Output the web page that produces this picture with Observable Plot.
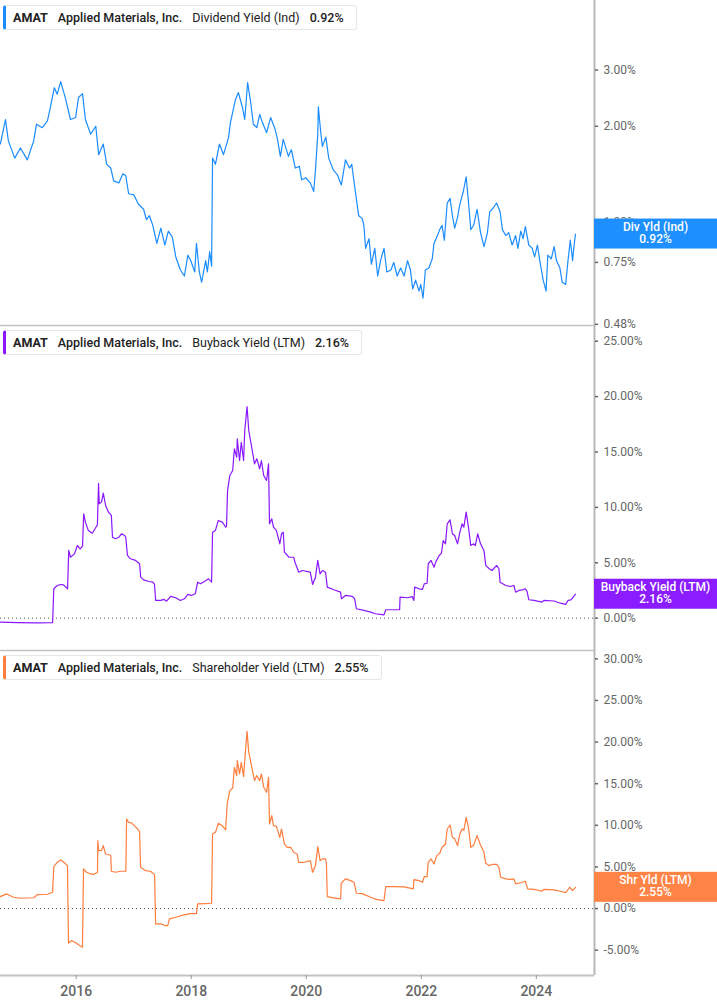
<!DOCTYPE html>
<html>
<head>
<meta charset="utf-8">
<script src="https://cdn.jsdelivr.net/npm/d3@7"></script>
<script src="https://cdn.jsdelivr.net/npm/@observablehq/plot@0.6"></script>
<style>
  body { margin: 0; background: #fff; font-family: Roboto, "Noto Sans", sans-serif; }
  #wrap { position: relative; width: 717px; }
  .panel { position: relative; }
  .panel svg { display: block; }
  .legend {
    position: absolute; left: 3px; top: 5px; height: 23px;
    display: flex; align-items: center; gap: 10px;
    padding: 0 12px 0 7px; box-sizing: content-box;
    border: 1px solid #e6e6e6; border-left: 3px solid; border-radius: 3px;
    background: #fff; font-size: 12.5px; color: #222; white-space: nowrap;
  }
  .legend .tk { font-weight: 700; }
  .legend .co { font-weight: 500; }
  .legend .se { font-weight: 400; }
  .legend .va { font-weight: 500; }
</style>
</head>
<body>
<div id="wrap"></div>
<script>
// ---- data (decimal year, yield %) ----
const ticker = "AMAT";
const company = "Applied Materials, Inc.";

const dividendYield = [
[2014.68,1.76],[2014.77,2.10],[2014.82,1.80],[2014.93,1.59],[2015.03,1.71],[2015.15,1.57],[2015.26,1.80],[2015.31,2.03],[2015.41,1.98],[2015.50,2.08],
[2015.55,2.29],[2015.62,2.64],[2015.67,2.52],[2015.73,2.76],[2015.81,2.46],[2015.90,2.10],[2015.99,2.13],[2016.04,2.46],[2016.11,2.53],[2016.16,2.10],
[2016.25,1.89],[2016.34,2.00],[2016.39,1.63],[2016.47,1.76],[2016.53,1.52],[2016.60,1.48],[2016.65,1.35],[2016.74,1.33],[2016.81,1.42],[2016.86,1.40],
[2016.91,1.23],[2017.00,1.22],[2017.08,1.14],[2017.17,1.10],[2017.22,1.02],[2017.27,1.05],[2017.33,0.98],[2017.40,0.86],[2017.47,0.96],[2017.54,0.85],
[2017.60,0.94],[2017.67,0.90],[2017.73,0.78],[2017.81,0.71],[2017.88,0.68],[2017.94,0.79],[2017.99,0.76],[2018.06,0.70],[2018.09,0.86],[2018.14,0.70],
[2018.18,0.65],[2018.25,0.76],[2018.28,0.70],[2018.32,0.81],[2018.353,0.73],[2018.37,1.59],[2018.42,1.52],[2018.49,1.76],[2018.56,1.63],[2018.65,1.85],
[2018.68,2.05],[2018.77,2.43],[2018.82,2.55],[2018.89,2.29],[2018.93,2.10],[2018.98,2.74],[2019.03,2.40],[2019.08,2.03],[2019.14,1.98],[2019.19,2.18],
[2019.24,2.05],[2019.31,1.91],[2019.38,2.13],[2019.45,1.98],[2019.50,1.82],[2019.55,1.61],[2019.60,1.82],[2019.69,1.61],[2019.74,1.69],[2019.81,1.48],
[2019.88,1.50],[2019.92,1.36],[2019.99,1.38],[2020.07,1.33],[2020.13,1.25],[2020.16,1.46],[2020.20,1.89],[2020.21,2.30],[2020.25,1.93],[2020.28,1.73],
[2020.34,1.85],[2020.39,1.59],[2020.47,1.46],[2020.54,1.41],[2020.61,1.31],[2020.68,1.57],[2020.75,1.48],[2020.79,1.52],[2020.82,1.38],[2020.86,1.22],
[2020.91,1.05],[2020.97,1.03],[2021.00,0.98],[2021.03,0.83],[2021.09,0.89],[2021.13,0.74],[2021.19,0.83],[2021.24,0.68],[2021.29,0.76],[2021.35,0.83],
[2021.40,0.70],[2021.47,0.71],[2021.52,0.75],[2021.58,0.68],[2021.64,0.72],[2021.70,0.68],[2021.76,0.76],[2021.81,0.71],[2021.85,0.62],[2021.90,0.66],
[2021.96,0.61],[2021.99,0.64],[2022.03,0.58],[2022.07,0.71],[2022.13,0.72],[2022.19,0.77],[2022.22,0.86],[2022.28,0.91],[2022.32,0.95],[2022.36,0.98],
[2022.40,0.88],[2022.45,1.15],[2022.50,1.19],[2022.54,1.05],[2022.58,0.96],[2022.63,1.04],[2022.67,1.14],[2022.73,1.25],[2022.78,1.39],[2022.82,1.16],
[2022.86,0.95],[2022.91,0.98],[2022.97,1.10],[2023.03,0.93],[2023.09,0.84],[2023.15,0.93],[2023.19,1.08],[2023.25,1.11],[2023.31,1.15],[2023.37,1.08],
[2023.41,0.95],[2023.47,0.91],[2023.52,0.93],[2023.58,0.85],[2023.64,0.91],[2023.68,0.83],[2023.73,0.94],[2023.77,0.89],[2023.81,0.97],[2023.87,0.85],
[2023.93,0.83],[2023.97,0.78],[2024.02,0.85],[2024.06,0.76],[2024.12,0.66],[2024.17,0.61],[2024.20,0.79],[2024.26,0.77],[2024.31,0.84],[2024.35,0.76],
[2024.41,0.72],[2024.45,0.65],[2024.51,0.64],[2024.55,0.76],[2024.59,0.88],[2024.63,0.76],[2024.65,0.83],[2024.68,0.92]
];

const buybackYield = [
[2014.68,-0.36],[2014.98,-0.40],[2015.33,-0.42],[2015.59,-0.40],[2015.61,2.65],[2015.67,2.95],[2015.73,3.04],[2015.78,3.00],[2015.85,2.65],[2015.87,6.11],
[2015.90,5.50],[2015.97,5.80],[2016.02,6.56],[2016.07,6.26],[2016.11,6.50],[2016.13,9.42],[2016.16,8.67],[2016.21,7.92],[2016.28,7.67],[2016.35,8.28],
[2016.368,8.40],[2016.388,12.18],[2016.40,10.32],[2016.44,10.50],[2016.47,11.28],[2016.51,10.17],[2016.56,9.57],[2016.61,9.27],[2016.63,7.31],[2016.68,7.17],
[2016.74,7.31],[2016.79,7.62],[2016.84,7.46],[2016.86,7.31],[2016.89,5.66],[2016.94,5.36],[2017.03,5.21],[2017.10,4.91],[2017.12,3.70],[2017.17,3.46],
[2017.26,3.31],[2017.33,3.25],[2017.36,3.04],[2017.38,1.60],[2017.47,1.60],[2017.52,1.70],[2017.57,1.53],[2017.64,1.96],[2017.73,1.84],[2017.81,1.60],
[2017.88,1.75],[2017.94,2.14],[2018.00,2.05],[2018.07,2.20],[2018.11,3.25],[2018.16,3.10],[2018.23,3.31],[2018.30,3.55],[2018.353,3.25],[2018.37,7.76],
[2018.42,7.92],[2018.47,8.82],[2018.54,8.67],[2018.60,8.21],[2018.613,8.30],[2018.631,11.52],[2018.67,12.88],[2018.72,13.33],[2018.75,15.29],[2018.79,14.53],
[2018.80,16.19],[2018.84,14.23],[2018.87,15.88],[2018.91,14.23],[2018.93,16.94],[2018.97,19.10],[2019.00,16.94],[2019.03,16.04],[2019.07,14.84],[2019.10,13.93],
[2019.14,14.39],[2019.19,13.48],[2019.22,14.23],[2019.26,12.88],[2019.31,12.43],[2019.344,13.93],[2019.361,8.52],[2019.40,8.97],[2019.43,8.21],[2019.48,7.92],
[2019.54,6.71],[2019.57,7.62],[2019.60,7.76],[2019.62,5.96],[2019.70,5.50],[2019.78,5.50],[2019.81,4.96],[2019.87,4.15],[2019.93,4.30],[2020.07,4.15],
[2020.11,3.04],[2020.16,3.70],[2020.20,5.21],[2020.24,4.00],[2020.28,4.30],[2020.335,4.15],[2020.365,2.80],[2020.48,2.56],[2020.596,2.35],[2020.61,1.75],
[2020.68,2.05],[2020.80,1.96],[2020.84,1.75],[2020.87,0.85],[2021.00,0.70],[2021.12,0.54],[2021.20,0.40],[2021.35,0.30],[2021.38,0.76],[2021.52,0.76],
[2021.622,0.76],[2021.63,1.90],[2021.76,1.84],[2021.84,1.95],[2021.87,1.60],[2021.883,2.80],[2021.96,2.65],[2022.02,2.60],[2022.05,3.10],[2022.10,3.15],
[2022.12,4.91],[2022.17,5.21],[2022.22,4.60],[2022.25,5.06],[2022.31,5.66],[2022.35,5.87],[2022.38,7.01],[2022.42,6.71],[2022.45,8.52],[2022.50,8.88],
[2022.54,7.62],[2022.58,7.46],[2022.63,6.71],[2022.67,7.76],[2022.71,8.52],[2022.74,8.21],[2022.78,9.57],[2022.82,8.21],[2022.86,6.56],[2022.91,6.71],
[2022.94,6.56],[2022.98,7.62],[2023.03,6.71],[2023.09,6.11],[2023.12,4.76],[2023.18,4.46],[2023.23,4.30],[2023.31,4.76],[2023.35,4.46],[2023.37,3.25],
[2023.47,2.95],[2023.55,2.86],[2023.61,2.95],[2023.64,2.35],[2023.70,2.50],[2023.76,2.55],[2023.81,2.65],[2023.84,2.40],[2023.87,1.66],[2023.96,1.60],
[2024.10,1.44],[2024.13,1.60],[2024.31,1.55],[2024.42,1.35],[2024.51,1.24],[2024.55,1.60],[2024.60,1.65],[2024.68,2.16]
];

const shareholderYield = [
[2014.68,1.44],[2014.79,1.76],[2014.91,1.36],[2015.03,1.24],[2015.26,1.30],[2015.33,1.68],[2015.50,1.72],[2015.589,1.96],[2015.61,5.04],[2015.67,5.56],
[2015.73,5.84],[2015.78,5.60],[2015.848,5.16],[2015.866,-4.16],[2015.92,-3.84],[2015.99,-4.10],[2016.06,-4.44],[2016.109,-4.64],[2016.127,4.76],[2016.18,4.36],
[2016.25,4.16],[2016.30,4.10],[2016.37,4.36],[2016.375,8.16],[2016.39,6.96],[2016.44,7.00],[2016.47,7.56],[2016.51,6.56],[2016.60,6.40],[2016.61,4.48],
[2016.68,4.36],[2016.77,4.48],[2016.862,4.48],[2016.874,10.76],[2016.91,10.36],[2016.96,10.30],[2017.01,9.96],[2017.10,9.28],[2017.118,4.96],[2017.20,4.56],
[2017.29,4.48],[2017.361,4.08],[2017.379,-1.84],[2017.47,-1.84],[2017.54,-2.04],[2017.59,-2.04],[2017.62,-1.24],[2017.73,-1.04],[2017.87,-0.76],[2017.99,-0.60],
[2018.09,-0.60],[2018.11,0.56],[2018.25,0.60],[2018.353,0.64],[2018.37,8.96],[2018.42,9.16],[2018.47,10.24],[2018.54,9.96],[2018.596,9.44],[2018.625,12.57],
[2018.67,14.17],[2018.72,14.49],[2018.75,16.96],[2018.79,15.97],[2018.80,17.77],[2018.84,16.17],[2018.87,17.56],[2018.91,15.85],[2018.93,17.77],[2018.97,21.28],
[2019.00,18.76],[2019.03,17.77],[2019.07,16.36],[2019.10,15.37],[2019.14,15.97],[2019.19,15.37],[2019.22,16.17],[2019.26,14.57],[2019.31,13.97],[2019.344,15.77],
[2019.361,10.16],[2019.40,11.16],[2019.43,9.96],[2019.48,9.90],[2019.54,8.56],[2019.57,9.56],[2019.62,7.76],[2019.67,7.36],[2019.73,7.36],[2019.78,6.76],
[2019.84,6.56],[2019.87,5.56],[2019.96,5.56],[2020.07,5.76],[2020.11,4.36],[2020.16,5.16],[2020.20,7.44],[2020.24,5.76],[2020.28,5.96],[2020.335,5.96],
[2020.35,5.44],[2020.365,1.44],[2020.48,1.28],[2020.596,1.16],[2020.608,3.04],[2020.68,3.56],[2020.77,3.36],[2020.83,3.16],[2020.87,1.84],[2020.97,1.80],
[2021.12,1.36],[2021.23,1.08],[2021.35,0.96],[2021.38,2.64],[2021.52,2.64],[2021.70,2.60],[2021.861,2.36],[2021.871,3.48],[2021.96,3.36],[2022.02,3.16],
[2022.05,3.84],[2022.10,3.84],[2022.12,5.56],[2022.17,5.96],[2022.22,5.36],[2022.27,6.36],[2022.32,6.64],[2022.36,7.36],[2022.42,7.76],[2022.45,9.56],
[2022.50,10.04],[2022.54,8.56],[2022.58,8.40],[2022.63,7.56],[2022.67,8.96],[2022.71,9.56],[2022.74,9.40],[2022.78,10.96],[2022.82,9.76],[2022.86,7.36],
[2022.91,7.60],[2022.97,8.76],[2023.02,7.80],[2023.09,6.76],[2023.12,5.44],[2023.18,5.16],[2023.23,5.30],[2023.31,5.30],[2023.35,4.96],[2023.38,3.76],
[2023.47,3.56],[2023.55,3.50],[2023.61,3.56],[2023.64,2.96],[2023.73,3.10],[2023.81,3.28],[2023.85,2.36],[2023.96,2.30],[2024.10,2.08],[2024.13,2.30],
[2024.31,2.25],[2024.42,2.08],[2024.51,1.92],[2024.58,2.56],[2024.63,2.16],[2024.68,2.55]
];

const divTicks = [0.48, 0.75, 1, 2, 3];
const buybackTicks = [0, 5, 10, 15, 20, 25];
const shareholderTicks = [-5, 0, 5, 10, 15, 20, 25, 30];
const yearTicks = [2016, 2018, 2020, 2022, 2024];

// ---- layout ----
const W = 717, MR = 123, PH = 325, XAXIS = 30;
const toDate = t => { const y = Math.floor(t); const a = Date.UTC(y, 0, 1), b = Date.UTC(y + 1, 0, 1); return new Date(a + (t - y) * (b - a)); };
const xDomain = [toDate(2014.683), toDate(2025.01)];
const fmtPct = d => d.toFixed(2) + "%";

function panel(cfg) {
  const data = cfg.series.map(([t, v]) => ({date: toDate(t), value: v}));
  const last = cfg.series[cfg.series.length - 1][1];
  const marks = [
    Plot.ruleY([cfg.yDomain[0]], {stroke: "#c2c2c2", strokeWidth: cfg.xAxis ? 2 : 1.5}),
    Plot.ruleX([xDomain[1]], {stroke: "#b8b8b8", strokeWidth: 2})
  ];
  if (cfg.zero) marks.push(Plot.ruleY([0], {stroke: "#555", strokeWidth: 1, strokeDasharray: "1,3"}));
  marks.push(Plot.line(data, {x: "date", y: "value", stroke: cfg.color, strokeWidth: 1.2, strokeLinejoin: "round"}));
  marks.push(Plot.axisY({anchor: "right", ticks: cfg.yTicks, tickFormat: fmtPct, tickSize: 3, tickPadding: 6, color: "#666", strokeWidth: 1.5, label: null, fontSize: 12}));
  if (cfg.xAxis) marks.push(Plot.axisX({ticks: yearTicks.map(y => new Date(Date.UTC(y, 0, 1))), tickFormat: d3.utcFormat("%Y"), tickSize: 4, tickPadding: 7, color: "#666", stroke: "#999", label: null, fontSize: 14, fontWeight: 500}));

  const chart = Plot.plot({
    width: W, height: PH + (cfg.xAxis ? XAXIS : 0),
    marginLeft: 0, marginRight: MR, marginTop: 0, marginBottom: cfg.xAxis ? XAXIS : 0,
    style: {background: "transparent", fontFamily: "Roboto, sans-serif", fontSize: "12px", overflow: "visible"},
    x: {type: "utc", domain: xDomain, ...(cfg.xAxis ? {} : {axis: null})},
    y: {type: cfg.yType, domain: cfg.yDomain},
    marks
  });

  // value badge on the right, positioned by the y scale
  const cy = chart.scale("y").apply(last);
  const g = d3.select(chart).append("g");
  g.append("rect").attr("x", W - MR).attr("y", cy - 15).attr("width", MR).attr("height", 30).attr("fill", cfg.badge);
  g.append("text").attr("x", W - MR / 2).attr("y", cy - 6).attr("text-anchor", "middle").attr("dominant-baseline", "middle")
    .attr("fill", "#fff").attr("font-size", 12).attr("font-weight", 500).attr("font-family", "Roboto, sans-serif").text(cfg.badgeLabel);
  g.append("text").attr("x", W - MR / 2).attr("y", cy + 6).attr("text-anchor", "middle").attr("dominant-baseline", "middle")
    .attr("fill", "#fff").attr("font-size", 12).attr("font-weight", 500).attr("font-family", "Roboto, sans-serif").text(fmtPct(last));

  const div = document.createElement("div");
  div.className = "panel";
  div.appendChild(chart);
  const lg = document.createElement("div");
  lg.className = "legend";
  lg.style.borderLeftColor = cfg.color;
  lg.innerHTML = `<span class="tk">${ticker}</span><span class="co">${company}</span><span class="se">${cfg.name}</span><span class="va">${fmtPct(last)}</span>`;
  div.appendChild(lg);
  document.getElementById("wrap").appendChild(div);
}

panel({series: dividendYield, name: "Dividend Yield (Ind)", badgeLabel: "Div Yld (Ind)", color: "#1a8cff", badge: "#1e8fff",
  yType: "log", yDomain: [0.476, 4.95], yTicks: divTicks, zero: false});
panel({series: buybackYield, name: "Buyback Yield (LTM)", badgeLabel: "Buyback Yield (LTM)", color: "#8a17ff", badge: "#8a1cff",
  yType: "linear", yDomain: [-2.92, 26.42], yTicks: buybackTicks, zero: true});
panel({series: shareholderYield, name: "Shareholder Yield (LTM)", badgeLabel: "Shr Yld (LTM)", color: "#ff7d3d", badge: "#ff8446",
  yType: "linear", yDomain: [-8.04, 31.0], yTicks: shareholderTicks, zero: true, xAxis: true});
</script>
</body>
</html>
